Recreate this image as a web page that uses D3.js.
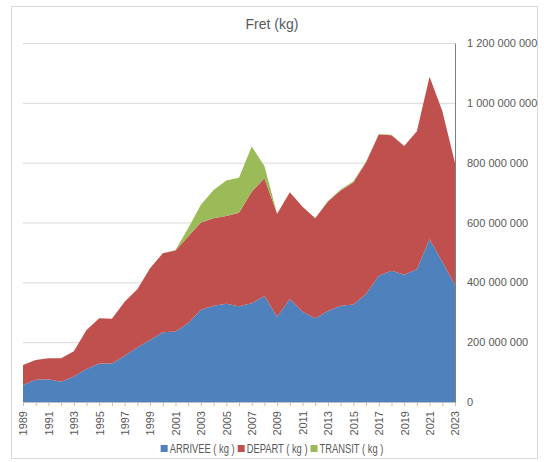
<!DOCTYPE html>
<meta charset="utf-8" />
<script src="https://d3js.org/d3.v7.min.js"></script>
<body style="margin:0;background:#fff">
<svg id="chart" width="544" height="462"></svg>
<script>
/* data (kg) -------------------------------------------------------------- */
const years=d3.range(1989,2024);
const arrivee=[57,74,76,68,85,110,129,129,155,182,207,233,236,263,308,322,328,320,330,354,
               285,344,302,280,304,322,326,361,422,439,425,444,544,469,391].map(v=>v*1e6);
const depart =[67,66,70,78,85,131,151,149,180,195,240,264,270,290,292,292,294,313,373,394,
               344,357,351,334,366,385,408,440,472,453,431,461,543,504,408].map(v=>v*1e6);
const transit=[0,0,0,0,0,0,0,0,0,0,0,0,2,28,59,95,118,117,151,41,
               0,0,0,0,2,3,4,3,2,1,0,0,0,0,0].map(v=>v*1e6);
const seriesNames=["ARRIVEE ( kg )","DEPART ( kg )","TRANSIT ( kg )"];
const colours=["#4F81BD","#C0504D","#9BBB59"];
const yTicks=[0,2e8,4e8,6e8,8e8,1e9,1.2e9];

/* layout ----------------------------------------------------------------- */
const L=23,R=455,T=43,B=402;
const font="'Liberation Sans Narrow','Arial Narrow','Liberation Sans',sans-serif";
const grey="#595959";
const svg=d3.select("#chart").style("font-family",font);

svg.append("rect").attr("x",11.5).attr("y",6.5).attr("width",526).attr("height",452)
   .attr("fill","#fff").attr("stroke","#D9D9D9");

const x=d3.scaleLinear().domain([1989,2023]).range([L,R]);
const y=d3.scaleLinear().domain([0,1.2e9]).range([B,T]);

/* gridlines */
svg.append("g").selectAll("line").data(yTicks.slice(1)).join("line")
   .attr("x1",L).attr("x2",R).attr("y1",d=>y(d)+0.5).attr("y2",d=>y(d)+0.5)
   .attr("stroke","#D9D9D9");

/* stacked areas */
const rows=years.map((yr,i)=>({year:yr,a:arrivee[i],d:depart[i],t:transit[i]}));
const stack=d3.stack().keys(["a","d","t"])(rows);
const area=d3.area().x(d=>x(d.data.year)).y0(d=>y(d[0])).y1(d=>y(d[1]));
svg.append("g").selectAll("path").data(stack).join("path")
   .attr("d",area).attr("fill",(d,i)=>colours[i]);

/* x axis */
const xAxis=d3.axisBottom(x).tickValues(years).tickSize(4)
   .tickFormat(d=>(d-1989)%2===0?d:"");
const gx=svg.append("g").attr("transform",`translate(0,${B})`).call(xAxis);
gx.select(".domain").attr("stroke","#BFBFBF");
gx.selectAll(".tick line").attr("stroke","#BFBFBF");
gx.selectAll(".tick text").attr("fill",grey).attr("font-size","11px")
  .attr("font-family",font)
  .attr("transform","rotate(-90)").attr("text-anchor","end")
  .attr("x",-9).attr("y",0).attr("dy","0.35em");

/* right y axis */
const fmt=v=>d3.format(",")(v).replace(/,/g," ");
const gy=svg.append("g").attr("transform",`translate(${R},0)`)
   .call(d3.axisRight(y).tickValues(yTicks).tickSize(0).tickPadding(12).tickFormat(fmt));
gy.select(".domain").attr("stroke","#7F7F7F");
gy.selectAll(".tick text").attr("fill",grey).attr("font-size","11px").attr("font-family",font);

/* title */
svg.append("text").attr("x",272).attr("y",29).attr("text-anchor","middle")
   .attr("fill",grey).attr("font-size","14px").text("Fret (kg)");

/* legend (narrowed text to mimic the condensed face) */
const lg=svg.append("g").attr("transform","translate(0,449)");
const items=lg.selectAll("g").data(seriesNames).join("g");
items.append("rect").attr("width",7).attr("height",7).attr("y",-4)
     .attr("fill",(d,i)=>colours[i]);
items.append("text").attr("x",9).attr("dy","0.35em").attr("fill",grey)
     .attr("font-size","12px").text(d=>d)
     .each(function(){
       const w=this.getComputedTextLength();
       d3.select(this).attr("textLength",w*0.78).attr("lengthAdjust","spacingAndGlyphs");
     });
let cx=0;const pos=[];
items.each(function(){pos.push(cx);cx+=this.getBBox().width+3;});
const startX=272-(cx-3)/2;
items.attr("transform",(d,i)=>`translate(${startX+pos[i]},0)`);
</script>
</body>
